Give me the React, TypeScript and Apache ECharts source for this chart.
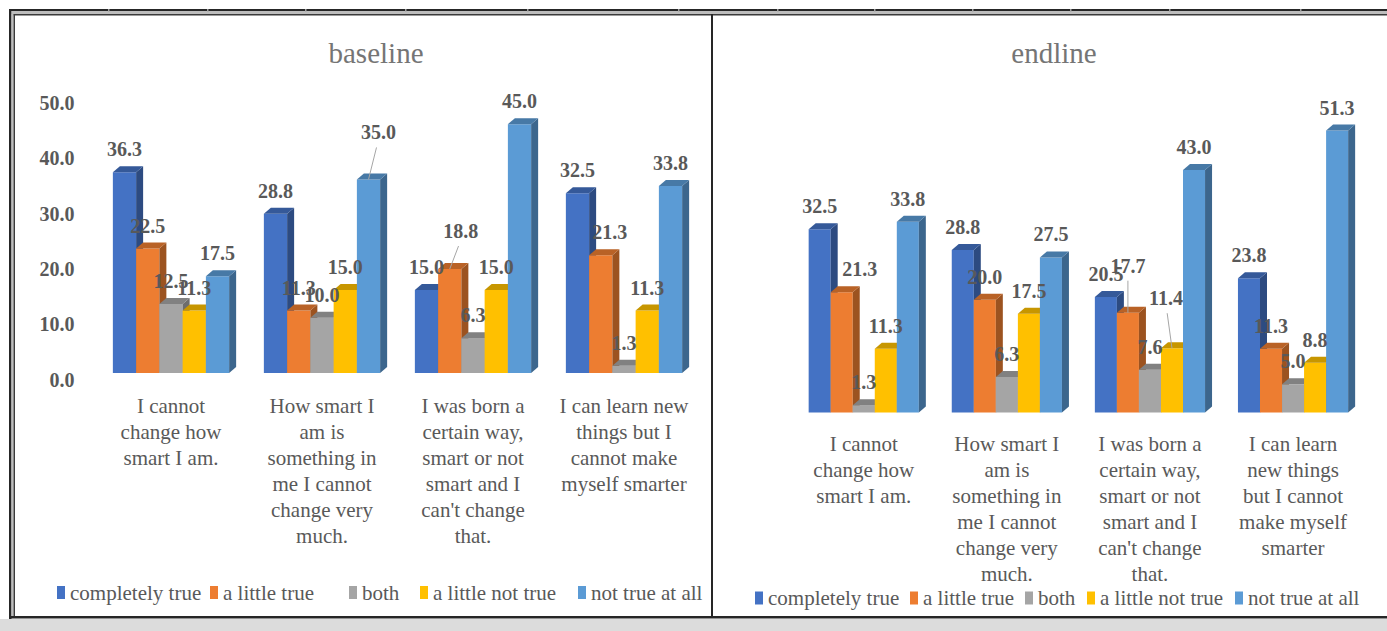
import React, { useEffect, useRef } from "react";
import * as echarts from "echarts";

// ---------- data ----------
const seriesNames = ["completely true", "a little true", "both", "a little not true", "not true at all"];
const seriesColors = ["#4472C4", "#ED7D31", "#A5A5A5", "#FFC000", "#5B9BD5"];

const baselineCategories = [
  "I cannot\nchange how\nsmart I am.",
  "How smart I\nam is\nsomething in\nme I cannot\nchange very\nmuch.",
  "I was born a\ncertain way,\nsmart or not\nsmart and I\ncan't change\nthat.",
  "I can learn new\nthings but I\ncannot make\nmyself smarter",
];
const endlineCategories = [
  "I cannot\nchange how\nsmart I am.",
  "How smart I\nam is\nsomething in\nme I cannot\nchange very\nmuch.",
  "I was born a\ncertain way,\nsmart or not\nsmart and I\ncan't change\nthat.",
  "I can learn\nnew things\nbut I cannot\nmake myself\nsmarter",
];

const baselineCompletelyTrue = [36.3, 28.8, 15.0, 32.5];
const baselineALittleTrue = [22.5, 11.3, 18.8, 21.3];
const baselineBoth = [12.5, 10.0, 6.3, 1.3];
const baselineALittleNotTrue = [11.3, 15.0, 15.0, 11.3];
const baselineNotTrueAtAll = [17.5, 35.0, 45.0, 33.8];

const endlineCompletelyTrue = [32.5, 28.8, 20.5, 23.8];
const endlineALittleTrue = [21.3, 20.0, 17.7, 11.3];
const endlineBoth = [1.3, 6.3, 7.6, 5.0];
const endlineALittleNotTrue = [11.3, 17.5, 11.4, 8.8];
const endlineNotTrueAtAll = [33.8, 27.5, 43.0, 51.3];

const axisMin = 0;
const axisMax = 50;
const axisInterval = 10;

// ---------- style ----------
const FONT = "'Liberation Serif', 'Times New Roman', serif";
const TEXT = "#595959";
const DX = 7;
const DY = 6;
const GROUP = 0.77;

type Tweak = { s: number; c: number; dx: number; dy: number; leader?: boolean };
const baselineTweaks: Tweak[] = [
  { s: 4, c: 1, dx: 10, dy: -24, leader: true },
  { s: 1, c: 2, dx: 11, dy: -15, leader: true },
  { s: 1, c: 3, dx: 9, dy: 0 },
];
const endlineTweaks: Tweak[] = [
  { s: 1, c: 0, dx: 18, dy: 0 },
  { s: 1, c: 2, dx: 0, dy: -24, leader: true },
  { s: 3, c: 2, dx: -6, dy: -27, leader: true },
];

function shade(hex: string, f: number) {
  const n = parseInt(hex.slice(1), 16);
  const r = Math.round(((n >> 16) & 255) * f);
  const g = Math.round(((n >> 8) & 255) * f);
  const b = Math.round((n & 255) * f);
  return `rgb(${r},${g},${b})`;
}

function buildSeries(chartIdx: number, values: number[][], tweaks: Tweak[]) {
  return values.map((vals, si) => ({
    type: "custom",
    name: seriesNames[si],
    xAxisIndex: chartIdx,
    yAxisIndex: chartIdx,
    clip: false,
    itemStyle: { color: seriesColors[si] },
    data: vals.map((v, ci) => [ci, v]),
    renderItem: (_params: any, api: any) => {
      const ci = api.value(0);
      const v = api.value(1);
      const base = api.coord([ci, 0]);
      const topPt = api.coord([ci, Math.min(v, axisMax)]);
      const band = api.size([1, 0])[0];
      const gw = band * GROUP;
      const bw = gw / 5;
      const x0 = base[0] - gw / 2 + si * bw;
      const x1 = x0 + bw;
      const yb = base[1];
      const yt = topPt[1];
      const color = seriesColors[si];
      const tw = tweaks.find((t) => t.s === si && t.c === ci);
      const cx = (x0 + x1) / 2;
      const lx = cx + (tw ? tw.dx : 0);
      const ly = yt - 23 + (tw ? tw.dy : 0);
      const children: any[] = [
        { type: "rect", shape: { x: x0, y: yt, width: bw, height: yb - yt }, style: { fill: color }, z2: si * 3 },
        {
          type: "polygon",
          shape: { points: [[x1, yt], [x1 + DX, yt - DY], [x1 + DX, yb - DY], [x1, yb]] },
          style: { fill: shade(color, 0.66) },
          z2: si * 3 + 1,
        },
        {
          type: "polygon",
          shape: { points: [[x0, yt], [x0 + DX, yt - DY], [x1 + DX, yt - DY], [x1, yt]] },
          style: { fill: shade(color, 0.78) },
          z2: si * 3 + 2,
        },
        {
          type: "text",
          x: lx,
          y: ly,
          z2: 100,
          style: {
            text: v.toFixed(1),
            fill: TEXT,
            fontSize: 20,
            fontFamily: FONT,
            fontWeight: "bold",
            align: "center",
            verticalAlign: "middle",
          },
        },
      ];
      if (tw && tw.leader) {
        children.push({
          type: "line",
          z2: 99,
          shape: { x1: cx, y1: yt, x2: lx + (cx - lx) * 0.2, y2: ly + 15 },
          style: { stroke: "#a6a6a6", lineWidth: 1 },
        });
      }
      return { type: "group", children };
    },
  }));
}

const baselineLegendWidths = [134, 120, 52, 139, 113];
const endlineLegendWidths = [132, 92, 39, 125, 115];

function legendCfg(left: number, top: number, widths: number[], gap: number) {
  return {
    left,
    top,
    orient: "horizontal",
    padding: 0,
    itemWidth: 8,
    itemHeight: 13,
    itemGap: gap,
    icon: "rect",
    selectedMode: false,
    textStyle: { fontSize: 21, color: TEXT, fontFamily: FONT, lineHeight: 22 },
    data: seriesNames.map((n, i) => ({
      name: n,
      textStyle: { width: widths[i], fontSize: 21, color: TEXT, fontFamily: FONT, lineHeight: 22 },
    })),
  };
}

function categoryAxis(grid: number, data: string[], margin: number) {
  return {
    type: "category",
    gridIndex: grid,
    data,
    axisLine: { show: false },
    axisTick: { show: false },
    splitLine: { show: false },
    axisLabel: {
      interval: 0,
      margin,
      fontSize: 21,
      lineHeight: 26,
      color: TEXT,
      fontFamily: FONT,
      align: "center",
    },
  };
}

const topTicks = [108, 207, 305, 405, 527, 678, 777, 874, 972, 1070, 1169, 1300];

export default function App() {
  const ref = useRef<HTMLDivElement>(null);
  useEffect(() => {
    if (!ref.current) return;
    const chart = echarts.init(ref.current, undefined, { renderer: "svg" });
    const dark = "#262626";
    const graphic: any[] = [
      { type: "rect", shape: { x: 0, y: 619, width: 1387, height: 12 }, style: { fill: "#dcdcdc" }, z: 0 },
      { type: "rect", shape: { x: 9, y: 9, width: 1378, height: 2 }, style: { fill: dark } },
      { type: "rect", shape: { x: 11, y: 11, width: 1376, height: 3 }, style: { fill: "#bdbdbd" } },
      { type: "rect", shape: { x: 13.5, y: 14, width: 1374, height: 1.5 }, style: { fill: "#3a3a3a" } },
      { type: "rect", shape: { x: 9, y: 9, width: 2.5, height: 610 }, style: { fill: dark } },
      { type: "rect", shape: { x: 11.5, y: 11, width: 2, height: 606 }, style: { fill: "#bdbdbd" } },
      { type: "rect", shape: { x: 13.5, y: 14, width: 1.5, height: 603 }, style: { fill: "#3a3a3a" } },
      { type: "rect", shape: { x: 9, y: 616, width: 1378, height: 2.5 }, style: { fill: dark } },
      { type: "rect", shape: { x: 711, y: 14, width: 2, height: 604 }, style: { fill: dark } },
      ...topTicks.map((x) => ({
        type: "rect",
        shape: { x, y: 9, width: 1.5, height: 2.5 },
        style: { fill: "#a0a0a0" },
      })),
      {
        type: "text",
        x: 376,
        y: 53,
        style: {
          text: "baseline",
          fill: "#757575",
          fontSize: 29,
          fontFamily: FONT,
          align: "center",
          verticalAlign: "middle",
        },
      },
      {
        type: "text",
        x: 1054,
        y: 53,
        style: {
          text: "endline",
          fill: "#757575",
          fontSize: 29,
          fontFamily: FONT,
          align: "center",
          verticalAlign: "middle",
        },
      },
    ];

    const option: any = {
      animation: false,
      backgroundColor: "#ffffff",
      textStyle: { fontFamily: FONT },
      graphic,
      grid: [
        { left: 95.5, width: 604, top: 96.5, height: 276.5, containLabel: false, outerBoundsMode: "none" },
        { left: 792.2, width: 572.4, top: 130.5, height: 282, containLabel: false, outerBoundsMode: "none" },
      ],
      xAxis: [categoryAxis(0, baselineCategories, 20), categoryAxis(1, endlineCategories, 18.5)],
      yAxis: [
        {
          type: "value",
          gridIndex: 0,
          min: axisMin,
          max: axisMax,
          interval: axisInterval,
          axisLine: { show: false },
          axisTick: { show: false },
          splitLine: { show: false },
          axisLabel: {
            margin: 21,
            fontSize: 20,
            fontWeight: "bold",
            color: TEXT,
            fontFamily: FONT,
            verticalAlign: "top",
            lineHeight: 13,
            formatter: (v: number) => v.toFixed(1),
          },
        },
        {
          type: "value",
          gridIndex: 1,
          min: axisMin,
          max: axisMax,
          interval: axisInterval,
          show: false,
          splitLine: { show: false },
        },
      ],
      legend: [
        legendCfg(57, 581.5, baselineLegendWidths, 6),
        legendCfg(755, 587, endlineLegendWidths, 10),
      ],
      series: [
        ...buildSeries(
          0,
          [baselineCompletelyTrue, baselineALittleTrue, baselineBoth, baselineALittleNotTrue, baselineNotTrueAtAll],
          baselineTweaks
        ),
        ...buildSeries(
          1,
          [endlineCompletelyTrue, endlineALittleTrue, endlineBoth, endlineALittleNotTrue, endlineNotTrueAtAll],
          endlineTweaks
        ),
      ],
    };
    chart.setOption(option);
    return () => chart.dispose();
  }, []);
  return (
    <div
      ref={ref}
      style={{ position: "absolute", left: 0, top: 0, width: 1387, height: 631, background: "#ffffff" }}
    />
  );
}
